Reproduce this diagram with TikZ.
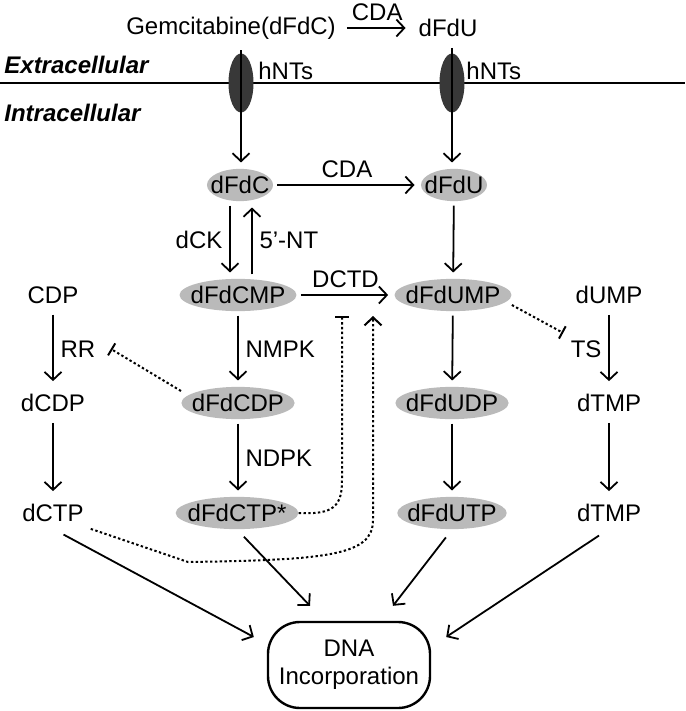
\documentclass[tikz,border=0pt]{standalone}
\usepackage{fontspec}
\setmainfont{Liberation Sans}
\usetikzlibrary{arrows.meta, shapes.geometric, calc}

\begin{document}
\begin{tikzpicture}[
  x=0.5pt, y=-0.5pt,
  font=\fontsize{12}{14}\selectfont,
  mol/.style={ellipse, fill=black!27, inner xsep=-3pt, inner ysep=1.2pt,
              text height=8.6pt, text depth=0.4pt},
  pump/.style={ellipse, fill=black!78, minimum width=12.5pt,
               minimum height=29.5pt, inner sep=0pt},
  dnabox/.style={draw, line width=1.2pt, rounded corners=16pt,
                 minimum width=81pt, minimum height=43pt, align=center},
  rxn/.style={-{Straight Barb[length=4pt,width=8.5pt]}, line width=0.9pt,
              shorten <=2pt, shorten >=3pt},
  inhib/.style={-{Bar[width=7pt]}, line width=1pt,
                dash pattern=on 1.2pt off 1.2pt},
  act/.style={-{Straight Barb[length=4pt,width=8.5pt]}, line width=1pt,
              dash pattern=on 1.2pt off 1.2pt},
]
\useasboundingbox (0,0) rectangle (685,711);

% ---- membrane ----
\draw[line width=1pt] (0,83) -- (685,83);
\node[pump] (hnt1) at (241,83) {};
\node[pump] (hnt2) at (452,83) {};
\node[anchor=west, inner sep=0pt] (hntl1) at (258,71) {hNTs};
\node[anchor=west, inner sep=0pt] (hntl2) at (466,71) {hNTs};
\node[anchor=west, inner sep=0pt, font=\fontsize{12}{14}\selectfont\bfseries\itshape] (extra) at (4,65) {Extracellular};
\node[anchor=west, inner sep=0pt, font=\fontsize{12}{14}\selectfont\bfseries\itshape] (intra) at (4,113) {Intracellular};

% ---- extracellular ----
\node (gem)    at (231,28) {Gemcitabine(dFdC)};
\node (dfduex) at (448,28) {dFdU};

% ---- intracellular ----
\node[mol] (dfdc)   at (240,185) {dFdC};
\node[mol] (dfdu)   at (454,185) {dFdU};
\node[mol] (dfdcmp) at (238,295) {dFdCMP};
\node[mol] (dfdump) at (453,295) {dFdUMP};
\node      (cdp)    at (53,295)  {CDP};
\node      (dump)   at (609,295) {dUMP};
\node      (dcdp)   at (53,403)  {dCDP};
\node[mol] (dfdcdp) at (238,403) {dFdCDP};
\node[mol] (dfdudp) at (452,403) {dFdUDP};
\node      (dtmp)   at (609,403) {dTMP};
\node      (dctp)   at (53,513)  {dCTP};
\node[mol] (dfdctp) at (237,513) {dFdCTP*};
\node[mol] (dfdutp) at (452,513) {dFdUTP};
\node      (dttp)   at (609,513) {dTMP};
\node[dnabox] (dna) at (349,665) {DNA\\Incorporation};

\coordinate (dctdbar) at (342,316);
\coordinate (dctdact) at (373,316);

% ---- reactions ----
\draw[rxn] (gem) -- (dfduex) node[midway, above] {CDA};
\draw[rxn] (hnt1 |- gem.south) -- (hnt1 |- dfdc.north);
\draw[rxn] (hnt2 |- dfduex.south) -- (hnt2 |- dfdu.north);
\draw[rxn] (dfdc) -- (dfdu) node[midway, above] {CDA};
\draw[rxn] ([xshift=-5pt]dfdc.south) -- ([xshift=-5pt]dfdc.south |- dfdcmp.north) node[midway, left] {dCK};
\draw[rxn] ([xshift=6pt]dfdc.south |- dfdcmp.north) -- ([xshift=6pt]dfdc.south) node[midway, right] {5'-NT};
\draw[rxn] (dfdcmp) -- (dfdump) node[midway, above] {DCTD};
\draw[rxn] (dfdu) -- (dfdump);
\draw[rxn] (dfdcmp) -- (dfdcdp) node[midway, right] {NMPK};
\draw[rxn] (dfdcdp) -- (dfdcdp |- dfdctp.north) node[midway, right] {NDPK};
\draw[rxn] (dfdump) -- (dfdudp);
\draw[rxn] (dfdudp) -- (dfdutp);
\draw[rxn] (cdp) -- (dcdp) node[midway, right] (rr) {RR};
\draw[rxn] (dcdp) -- (dctp);
\draw[rxn] (dump) -- (dtmp) node[midway, left] (ts) {TS};
\draw[rxn] (dtmp) -- (dttp);

% ---- incorporation ----
\draw[rxn, shorten <=6pt, shorten >=0pt] (dctp.south) -- ([shift={(-6.5pt,14pt)}]dna.west);
\draw[rxn, shorten <=5pt, shorten >=0pt] (dfdctp.south) -- ([shift={(-19.5pt,7.5pt)}]dna.north);
\draw[rxn, shorten <=5pt, shorten >=0pt] (dfdutp.south) -- ([shift={(22pt,7.5pt)}]dna.north);
\draw[rxn, shorten <=6pt, shorten >=0pt] (dttp.south) -- ([shift={(7.5pt,14pt)}]dna.east);

% ---- regulation ----
\draw[inhib] ([yshift=6pt]dfdcdp.west) -- ([xshift=4pt]rr.east);
\draw[inhib] ([yshift=-5pt]dfdump.east) -- (ts.north west);
\draw[inhib] (dfdctp.east) .. controls (335,515) and (342,505) .. (342,480) -- (dctdbar);
\draw[act] (dctp.south east) -- (188,562) .. controls (330,560) and (373,555) .. (373,520) -- (dctdact);

\end{tikzpicture}
\end{document}
